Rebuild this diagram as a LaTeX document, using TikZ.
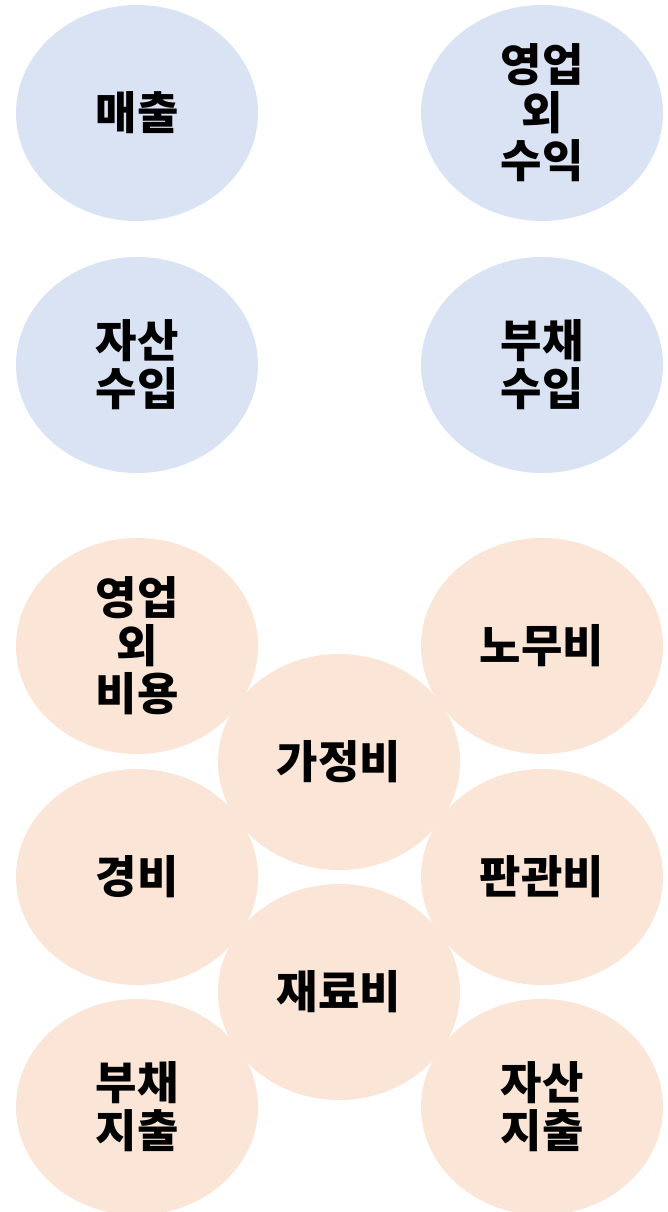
\documentclass[tikz,border=0pt]{standalone}
\usepackage{fontspec}
\setmainfont{Noto Sans CJK KR}
\usetikzlibrary{shapes.geometric}
\definecolor{inc}{HTML}{DAE3F3}
\definecolor{exp}{HTML}{FBE5D6}
\tikzset{
  bubble/.style={ellipse, minimum width=242pt, minimum height=216pt, inner sep=0pt,
    align=center, font=\fontsize{45}{48}\selectfont\bfseries, text=black},
  incb/.style={bubble, fill=inc},
  expb/.style={bubble, fill=exp}
}
\begin{document}
\begin{tikzpicture}[x=1pt,y=-1pt]
\useasboundingbox (0,0) rectangle (667,1212);
\node[incb] (maechul) at (137,113) {매출};
\node[incb] (yeongsu) at (542,113) {영업\\외\\수익};
\node[incb] (jasansu) at (137,365) {자산\\수입};
\node[incb] (buchaesu) at (542,365) {부채\\수입};
\node[expb] (yeongbi) at (137,646) {영업\\외\\비용};
\node[expb] (nomu) at (542,646) {노무비};
\node[expb] (gyeong) at (137,877) {경비};
\node[expb] (pangwan) at (542,877) {판관비};
\node[expb] (buchaeji) at (137,1107) {부채\\지출};
\node[expb] (jasanji) at (542,1107) {자산\\지출};
\node[expb] (gajeong) at (339,762) {가정비};
\node[expb] (jaeryo) at (339,992) {재료비};
\end{tikzpicture}
\end{document}
